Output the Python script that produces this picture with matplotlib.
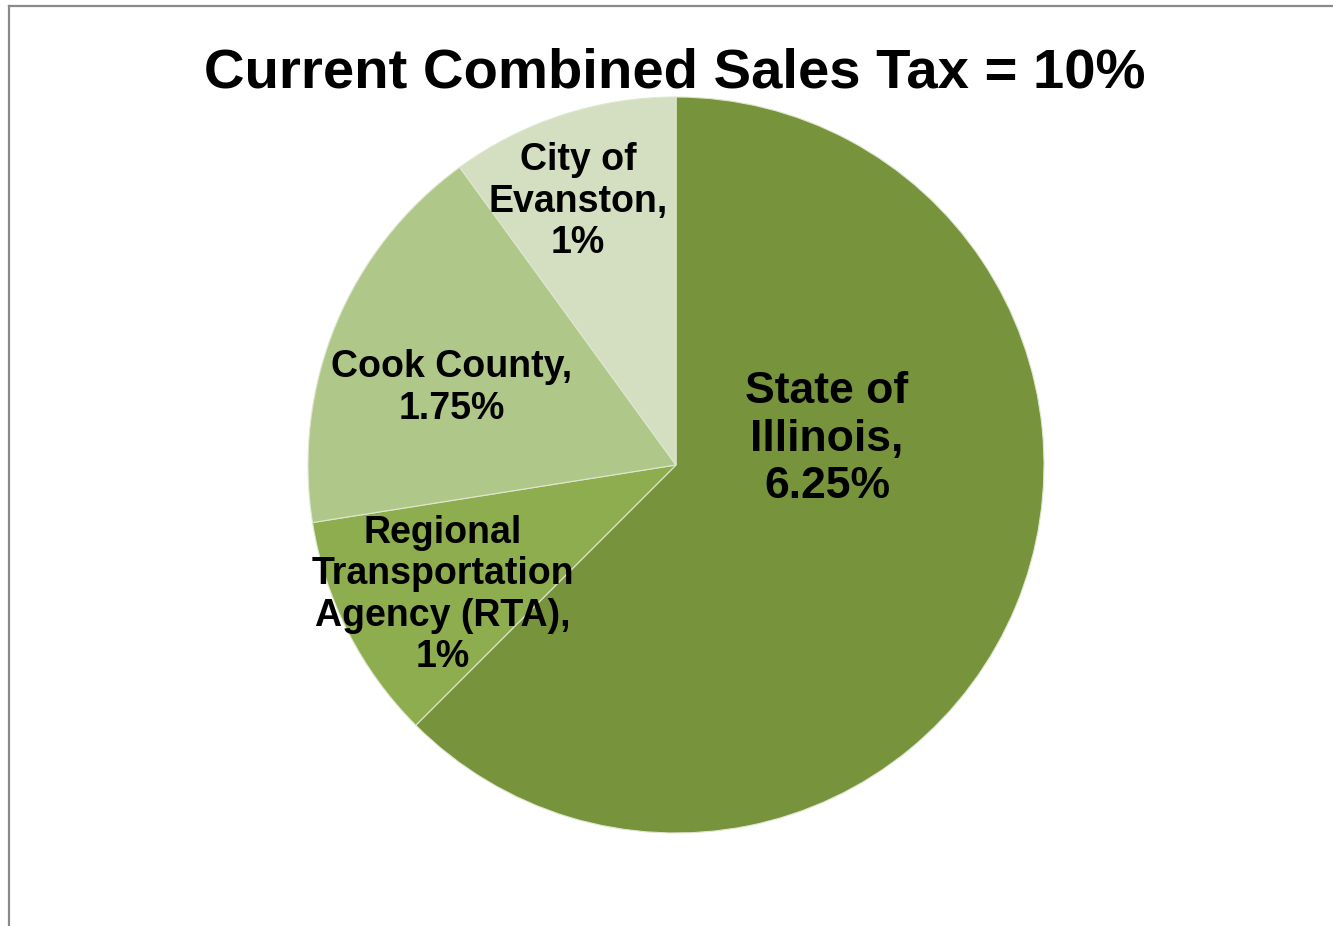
import matplotlib.pyplot as plt
from matplotlib.lines import Line2D

# shares of the 10% combined sales tax, clockwise from 12 o'clock
labels = ['State of\nIllinois,\n6.25%',
          'Regional\nTransportation\nAgency (RTA),\n1%',
          'Cook County,\n1.75%',
          'City of\nEvanston,\n1%']
values = [6.25, 1, 1.75, 1]
colors = ['#77933C', '#8DAD4E', '#B0C78A', '#D3DFC0']
# label placement (in pie radius units) and font sizes
label_pos = [(0.41, 0.07), (-0.633, -0.353), (-0.609, 0.209), (-0.266, 0.715)]
label_size = [32, 27, 27, 27]

plt.rcParams['font.family'] = ['Liberation Sans', 'DejaVu Sans']

W, H = 1333, 926
fig = plt.figure(figsize=(W / 100, H / 100), dpi=100)

cx, cy, r = 676, 465, 368
ax = fig.add_axes([(cx - r) / W, (H - cy - r) / H, 2 * r / W, 2 * r / H])
ax.pie(values, colors=colors, startangle=90, counterclock=False,
       radius=1, wedgeprops=dict(edgecolor='#dfe7cf', linewidth=0.8))
ax.set_xlim(-1, 1)
ax.set_ylim(-1, 1)
ax.set_aspect('equal')
ax.axis('off')

for txt, (x, y), fs in zip(labels, label_pos, label_size):
    ax.text(x, y, txt, ha='center', va='center', fontsize=fs,
            fontweight='bold', color='black', linespacing=1.2)

fig.text(675 / W, 1 - 88 / H, 'Current Combined Sales Tax = 10%',
         ha='center', va='baseline', fontsize=40.5, fontweight='bold')

# thin grey frame (left and top only)
for xs, ys in [([9, 9], [6, 926]), ([9, 1333], [6, 6])]:
    fig.add_artist(Line2D([x / W for x in xs], [1 - y / H for y in ys],
                          color='#8a8a8a', linewidth=1.6))

fig.savefig('out.png', dpi=100)
